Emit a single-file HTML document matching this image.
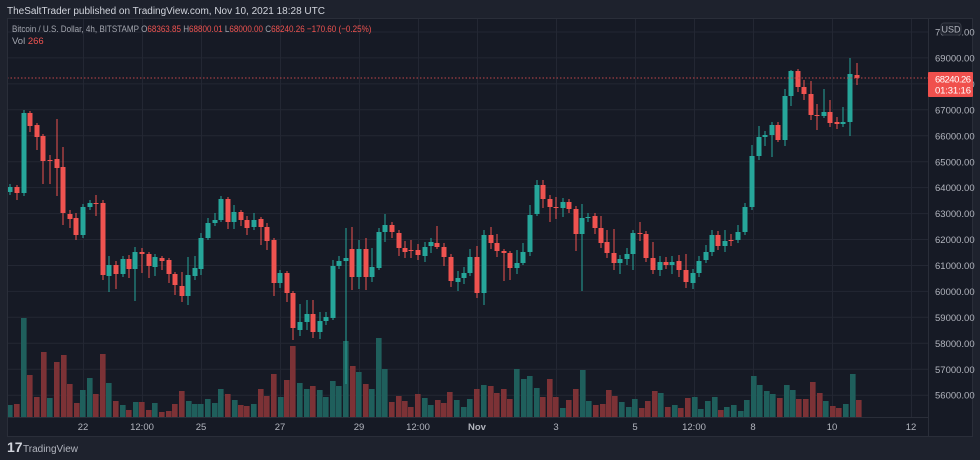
<!DOCTYPE html>
<html><head><meta charset="utf-8">
<style>
html,body{margin:0;padding:0;background:#1e222d;}
body{width:980px;height:460px;overflow:hidden;font-family:"Liberation Sans",sans-serif;}
svg{display:block}
</style></head>
<body>
<svg id="s" width="980" height="460" xmlns="http://www.w3.org/2000/svg" font-family="Liberation Sans, sans-serif">
<rect x="0" y="0" width="980" height="460" fill="#1e222d"/>
<rect x="7" y="18" width="966" height="418" fill="#161a25"/>
<g id="grid" stroke="#232733" stroke-width="1"></g>
<g id="vol"></g>
<g id="cdl"></g>
<line x1="7" y1="78" x2="928" y2="78" stroke="#c0474a" stroke-width="1" stroke-dasharray="1.5,2"/>
<line x1="928.5" y1="18" x2="928.5" y2="436" stroke="#2a2e39"/>
<line x1="7" y1="417.5" x2="928" y2="417.5" stroke="#2a2e39"/>
<rect x="7.5" y="18.5" width="965" height="418" fill="none" stroke="#2a2e39"/>
<g id="plab" font-size="9.5" fill="#b2b5be"></g>
<g id="tlab" font-size="9.5" fill="#b2b5be" text-anchor="middle"></g>
<rect x="941" y="23" width="20" height="12" rx="3" fill="#1e222d" stroke="#363a45"/>
<text x="951" y="32.5" font-size="9" fill="#b2b5be" text-anchor="middle">USD</text>
<rect x="928" y="72" width="45" height="25" rx="1" fill="#f0504d"/>
<text x="935" y="82.5" font-size="9.5" fill="#fff" textLength="36">68240.26</text>
<text x="935" y="93.5" font-size="9.5" fill="#fff" textLength="36">01:31:16</text>
<text x="7" y="14" font-size="10" fill="#d1d4dc">TheSaltTrader published on TradingView.com, Nov 10, 2021 18:28 UTC</text>
<g transform="translate(12,32) scale(0.85,1)"><text x="0" y="0" font-size="9.5" fill="#a3a6af">Bitcoin / U.S. Dollar, 4h, BITSTAMP  <tspan fill="#a3a6af">O</tspan><tspan fill="#ef5350">68363.85 </tspan><tspan fill="#a3a6af"> H</tspan><tspan fill="#ef5350">68800.01 </tspan><tspan fill="#a3a6af"> L</tspan><tspan fill="#ef5350">68000.00 </tspan><tspan fill="#a3a6af"> C</tspan><tspan fill="#ef5350">68240.26 </tspan><tspan fill="#ef5350"> −170.60 (−0.25%)</tspan></text></g>
<text x="12" y="44" font-size="9.5" fill="#a3a6af">Vol <tspan fill="#ef5350">266</tspan></text>
<text x="7" y="452" font-size="14" font-weight="bold" fill="#d1d4dc">17</text>
<text x="23" y="452" font-size="10" fill="#b2b5be">TradingView</text>
</svg>
<script>
var NS="http://www.w3.org/2000/svg";
function el(p,t,a){var e=document.createElementNS(NS,t);for(var k in a)e.setAttribute(k,a[k]);document.getElementById(p).appendChild(e);return e;}
for(var i=0;i<16;i++){var y=32+i*25.94;if(y<417)el("grid","line",{x1:7,x2:928,y1:y.toFixed(1),y2:y.toFixed(1)});}
var tx=[[83,"22"],[142,"12:00"],[201,"25"],[280,"27"],[359,"29"],[418,"12:00"],[477,"Nov"],[556,"3"],[635,"5"],[694,"12:00"],[753,"8"],[832,"10"],[911,"12"]];
tx.forEach(function(t){el("grid","line",{x1:t[0]+.5,x2:t[0]+.5,y1:18,y2:417});var e=el("tlab","text",{x:t[0],y:430});e.textContent=t[1];if(t[1]=="Nov")e.setAttribute("font-weight","bold");});
for(var p=69000;p>=56000;p-=1000){var y=58+(69000-p)*0.02594;var e=el("plab","text",{x:935,y:(y+3.5).toFixed(1)});e.textContent=p+".00";}
var e=el("plab","text",{x:935,y:35.5});e.textContent="70000.00";
var V=[[10,405,1],[17,404,0],[24,318,1],[30,375,0],[37,397,0],[44,352,0],[50,398,1],[57,362,0],[64,355,0],[70,384,0],[77,403,0],[83,390,1],[90,378,1],[96,394,0],[103,354,0],[109,383,1],[116,401,0],[123,405,1],[129,410,0],[136,402,1],[142,402,0],[149,410,0],[155,403,1],[162,412,0],[169,411,0],[175,404,0],[182,391,0],[189,401,1],[195,404,1],[201,404,1],[208,399,1],[215,403,1],[221,389,1],[228,394,0],[235,400,1],[241,405,0],[247,406,0],[254,404,1],[261,389,0],[267,396,0],[274,374,0],[281,397,1],[287,380,0],[293,346,0],[300,383,1],[307,389,1],[313,386,0],[320,390,1],[326,397,1],[333,381,1],[339,386,1],[346,341,1],[353,366,0],[359,372,1],[366,384,0],[372,389,1],[379,338,1],[385,369,1],[392,402,0],[399,396,0],[405,401,0],[411,407,0],[418,394,0],[425,398,1],[431,405,1],[438,400,0],[444,403,0],[450,392,0],[457,400,1],[464,407,1],[470,399,1],[477,389,0],[484,385,1],
[491,386,0],[497,393,0],[504,389,0],[510,399,0],[517,369,1],[524,379,1],[530,376,1],[537,388,1],[543,397,0],[550,379,0],[556,397,0],[563,408,1],[569,400,0],[576,389,0],[583,370,1],[589,401,1],[596,405,0],[603,404,0],[609,390,0],[615,396,0],[622,402,1],[629,407,1],[635,399,1],[642,408,0],[648,401,0],[655,391,0],[661,393,1],[668,407,0],[675,405,1],[681,408,0],[688,398,0],[695,397,1],[701,409,1],[708,401,1],[715,397,1],[721,410,0],[727,407,1],[734,405,1],[741,411,1],[747,400,1],[754,376,1],[760,385,1],[767,391,1],[773,394,1],[780,398,0],[787,385,1],[793,390,1],[799,399,0],[806,399,0],[813,382,0],[820,393,0],[826,401,1],[833,406,0],[839,408,0],[846,404,1],[853,374,1],[859,400,0]];
V.forEach(function(v){el("vol","rect",{x:v[0]-3,y:v[1],width:5.6,height:417-v[1],fill:v[2]?"#1f5f5c":"#7c3236"});});
var C=[[10,192,187],[17,187,193,185,200],[24,193,113,110],[30,113,126,111,132],[37,125,137,123,150],[43,136,161,134,184],[50,160,160.6,155,184],[57,159,168,119,196],[63,167,213,147,225],[70,214,219,210,228],[76,218,235,213,240],[83,235,207],[90,207,203],[96,203,204,195,216],[103,203,275,200,280],[109,276,265,256,292],[116,265,274,261,289],[123,274,259],[129,259,269,255,278],[135,269,252,247,301],[142,252,254,248,273],[149,254,266,252,278],[155,267,257,254,276],[162,258,261,256,270],[169,260,274,258,283],[175,274,285,272,295],[182,286,296,272,302],[188,296,275,257,305],[195,276,268,256,280],[201,269,238,233,275],[208,238,223,218,240],[215,223,220,213,226],[221,220,199,196,222],[228,199,222,197,229],[234,222,212,205,229],[241,212,220,210,226],[247,220,228,216,235],[254,227,220,213,230],[261,219,227,217,245],[267,227,241,223,250],[274,240,283,238,296],[280,283,273,270,288],[287,273,293,271,302],[293,293,328,291,340],[300,330,322,304,336],[307,322,314,300,330],[313,314,332,300,338],[320,332,321,312,339],[326,321,317,312,325],[333,318,266,260,320],[339,266,261,256,269],[346,261,258,228,384],[352,249,277,227,290],[359,277,249,240,289],[366,249,277,238,290],[372,277,267,248,282],[379,268,232,228,270],[385,232,225,214,242],[392,225,232,222,238],[399,233,248,230,256],[405,248,252,241,258],[411,250,251,240,258],[418,250,255,244,260],[425,256,247,242,262],[431,246,242,238,253],[437,243,247,226,249],[444,247,257,243,266],[451,257,281,254,287],[458,282,278,271,291],[464,278,273,267,284],[470,273,257,249,276],[477,257,293,246,298],[484,293,235,230,305],
[491,235,243,227,249],[497,243,251,234,257],[504,251,253,249,281],[510,253,268,251,280],[517,268,263,250,274],[523,263,252,243,265],[530,252,215,205,256],[537,214,185,180,216],[543,185,199,180,208],[550,199,207,195,222],[556,207,207.7,197,219],[563,208,202,198,217],[569,202,209,199,213],[576,209,234,206,251],[582,234,218,204,291],[588,218,217,213,222],[595,216,228,213,234],[601,228,243,216,248],[607,242,253,230,258],[614,253,263,229,270],[620,263,259,255,274],[627,259,254,248,265],[633,254,233,230,270],[640,233,233.7,222,241],[646,234,258,231,262],[653,258,270,242,274],[660,270,262,256,276],[666,262,265,257,269],[672,265,262,256,274],[679,261,270,255,277],[686,270,282,254,288],[693,283,273,269,289],[699,273,261,256,277],[706,260,252,245,263],[712,252,235,230,256],[718,235,246,231,250],[725,246,241,230,252],[731,240,240.7,234,246],[738,240,232,225,243],[745,232,207,203,235],[752,207,156,145,210],[759,156,137,126,160],[765,137,135,131,146],[772,135,125,122,157],[778,125,140,122,142],[785,140,96,89,146],[791,96,71,70,106],[798,71,87,69,92],[804,87,94,80,100],[811,94,115,81,120],[817,115,115.7,104,130],[824,116,112,89,118],[830,112,123,100,127],[837,122,124,117,129],[843,124,122,107,127],[850,122,74,58,136],[857,75,78,63,85]];
C.forEach(function(c){var g=c[2]<c[1];var col=g?"#26a69a":"#ef5350";var t=Math.min(c[1],c[2]),b=Math.max(c[1],c[2]);var hi=c[3]!==undefined?c[3]:t-3,lo=c[4]!==undefined?c[4]:b+3;
el("cdl","line",{x1:c[0],x2:c[0],y1:hi,y2:lo,stroke:col,"stroke-width":1});
el("cdl","rect",{x:c[0]-2.5,y:t,width:5,height:Math.max(1,b-t),fill:col});});
</script>
</body></html>
